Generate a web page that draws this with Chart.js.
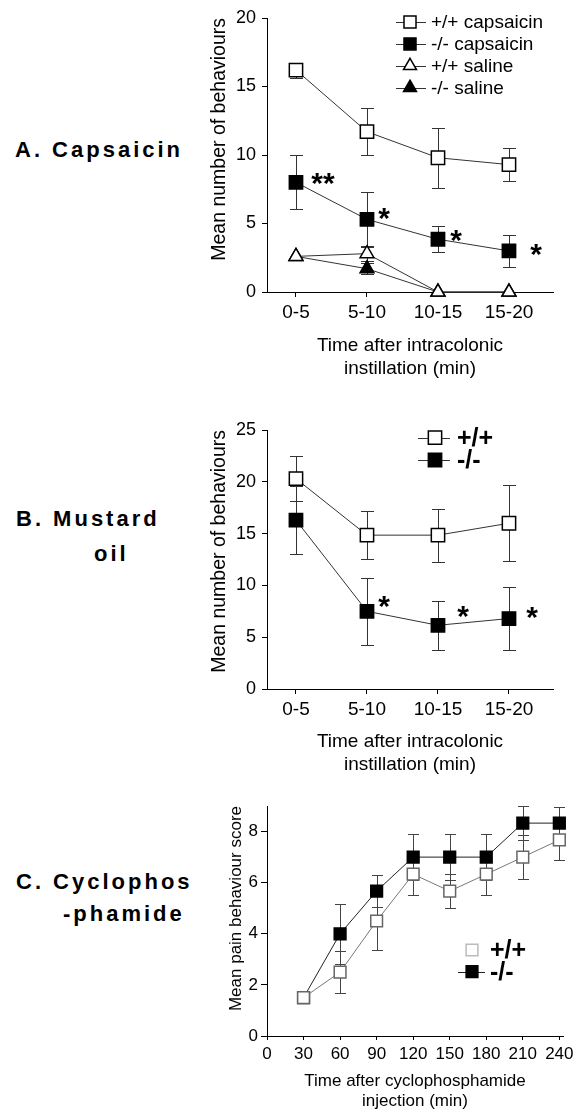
<!DOCTYPE html>
<html><head><meta charset="utf-8">
<script src="https://cdn.jsdelivr.net/npm/chart.js@4.4.1/dist/chart.umd.min.js"></script>
<style>
html,body{margin:0;padding:0;background:#fff;overflow:hidden;width:579px;height:1110px;position:relative;}
.lab{position:absolute;font:bold 22px 'Liberation Sans',Arial,sans-serif;letter-spacing:3px;line-height:26px;white-space:nowrap;color:#000;}
canvas{position:absolute;left:195px;}
</style></head><body>
<div class="lab" style="left:15px;top:137px">A. Capsaicin</div>
<div class="lab" style="left:16px;top:506px">B. Mustard</div>
<div class="lab" style="left:94px;top:541px">oil</div>
<div class="lab" style="left:16px;top:869px">C. Cyclophos</div>
<div class="lab" style="left:63px;top:901px">-phamide</div>
<canvas id="cA" width="384" height="380" style="top:0px"></canvas>
<canvas id="cB" width="384" height="381" style="top:395px"></canvas>
<canvas id="cC" width="384" height="332" style="top:780px"></canvas>
<script>
const FONT = "'Liberation Sans', Arial, Helvetica, sans-serif";

// ---- Panel A: capsaicin ----
const catsA = ['0-5', '5-10', '10-15', '15-20'];
const yTicksA = [0, 5, 10, 15, 20];
const wtCapsA = [16.2, 11.7, 9.8, 9.3];
const wtCapsErrA = [0.55, 1.7, 2.2, 1.2];
const koCapsA = [8.0, 5.3, 3.85, 3.0];
const koCapsErrA = [1.97, 2.0, 0.95, 1.15];
const wtSalA = [2.6, 2.8, 0, 0];
const wtSalErrA = [0, 0.55, 0, 0];
const koSalA = [2.6, 1.7, 0, 0];
const koSalErrA = [0, 0.4, 0, 0];
const starsA = ['**', '*', '*', '*'];

// ---- Panel B: mustard oil ----
const catsB = ['0-5', '5-10', '10-15', '15-20'];
const yTicksB = [0, 5, 10, 15, 20, 25];
const wtB = [20.3, 14.85, 14.85, 16.0];
const wtErrB = [2.2, 2.3, 2.55, 3.65];
const koB = [16.3, 7.5, 6.15, 6.8];
const koErrB = [3.3, 3.25, 2.35, 3.05];
const starsB = ['', '*', '*', '*'];

// ---- Panel C: cyclophosphamide ----
const timesC = [30, 60, 90, 120, 150, 180, 210, 240];
const xTicksC = [0, 30, 60, 90, 120, 150, 180, 210, 240];
const yTicksC = [0, 2, 4, 6, 8];
const wtC = [1.5, 2.5, 4.5, 6.33, 5.67, 6.33, 7.0, 7.67];
const wtErrC = [0.2, 0.82, 1.15, 0.8, 0.67, 0.8, 0.87, 0.8];
const koC = [1.5, 4.0, 5.67, 7.0, 7.0, 7.0, 8.33, 8.33];
const koErrC = [0, 1.18, 0.64, 0.9, 0.9, 0.9, 0.67, 0.64];

Chart.defaults.font.family = FONT;
Chart.defaults.color = '#000';

const idxPts = vals => vals.map((v, i) => ({x: i, y: v}));
const xyPts = (xs, vals) => vals.map((v, i) => ({x: xs[i], y: v}));

function drawMarker(ctx, style, x, y, r, fill, stroke, lw) {
  ctx.save();
  ctx.beginPath();
  if (style === 'rect') {
    const s = r * Math.SQRT1_2;
    ctx.rect(x - s, y - s, 2 * s, 2 * s);
  } else {
    let a = 0;
    ctx.moveTo(x + Math.sin(a) * r, y - Math.cos(a) * r);
    a += 2 * Math.PI / 3;
    ctx.lineTo(x + Math.sin(a) * r, y - Math.cos(a) * r);
    a += 2 * Math.PI / 3;
    ctx.lineTo(x + Math.sin(a) * r, y - Math.cos(a) * r);
    ctx.closePath();
  }
  ctx.fillStyle = fill; ctx.fill();
  ctx.lineWidth = lw; ctx.strokeStyle = stroke; ctx.stroke();
  ctx.restore();
}

const errorBars = {
  id: 'errorBars',
  beforeDatasetsDraw(chart, args, o) {
    const ctx = chart.ctx, xs = chart.scales.x, ys = chart.scales.y;
    chart.data.datasets.forEach(ds => {
      if (!ds.err) return;
      ctx.save();
      ctx.strokeStyle = o.color || '#333';
      ctx.lineWidth = 1;
      ds.data.forEach((p, i) => {
        const e = ds.err[i];
        if (!e) return;
        const x = Math.round(xs.getPixelForValue(p.x)) + 0.5;
        const y1 = Math.round(ys.getPixelForValue(p.y + e)) + 0.5;
        const y2 = Math.round(ys.getPixelForValue(p.y - e)) + 0.5;
        const hw = o.cap || 6.5;
        ctx.beginPath();
        ctx.moveTo(x, y1); ctx.lineTo(x, y2);
        ctx.moveTo(x - hw, y1); ctx.lineTo(x + hw, y1);
        ctx.moveTo(x - hw, y2); ctx.lineTo(x + hw, y2);
        ctx.stroke();
      });
      ctx.restore();
    });
  }
};

const starsPlugin = {
  id: 'stars',
  afterDatasetsDraw(chart, args, o) {
    if (!o.labels) return;
    const ctx = chart.ctx;
    const meta = chart.getDatasetMeta(o.dataset);
    ctx.save();
    ctx.font = 'bold 30px ' + FONT;
    ctx.fillStyle = '#000';
    ctx.textAlign = 'center';
    ctx.textBaseline = 'alphabetic';
    o.labels.forEach((t, i) => {
      if (!t) return;
      const el = meta.data[i];
      ctx.fillText(t, el.x + o.dx[i], el.y + o.dy[i] + 17);
    });
    ctx.restore();
  }
};

const keyPlugin = {
  id: 'keyBox',
  afterDraw(chart, args, o) {
    if (!o.items) return;
    const ctx = chart.ctx;
    o.items.forEach((it, i) => {
      const ds = chart.data.datasets[it.ds];
      const y = o.y0 + i * o.dy;
      if (it.line !== false) {
        ctx.save();
        ctx.strokeStyle = ds.borderColor;
        ctx.lineWidth = 1;
        ctx.beginPath();
        ctx.moveTo(o.lineFrom, Math.round(y) + 0.5);
        ctx.lineTo(o.lineTo, Math.round(y) + 0.5);
        ctx.stroke();
        ctx.restore();
      }
      drawMarker(ctx, ds.pointStyle, o.markerX, y, ds.pointStyle === 'rect' ? o.r : o.rt,
        ds.pointBackgroundColor, it.stroke || ds.pointBorderColor, ds.pointBorderWidth);
      ctx.save();
      ctx.font = o.font;
      ctx.fillStyle = '#000';
      ctx.textAlign = 'left';
      ctx.textBaseline = 'middle';
      ctx.fillText(ds.label, o.textX, y + 1);
      ctx.restore();
    });
  }
};

function ds(label, data, err, style, r, fill, stroke, lineColor) {
  return {label, data, err, pointStyle: style, pointRadius: r, pointBackgroundColor: fill,
    pointBorderColor: stroke, pointBorderWidth: 1.5, borderColor: lineColor, borderWidth: 1,
    clip: false, fill: false, tension: 0};
}

function axisCommon() {
  return {
    grid: {drawOnChartArea: false, drawTicks: true, tickLength: 5, color: '#000'},
    border: {display: true, color: '#000', width: 1}
  };
}

function catChart(id, cats, yTicks, yMax, datasets, xH, topPad, stars, key) {
  return new Chart(document.getElementById(id), {
    type: 'line',
    data: {datasets},
    options: {
      responsive: false, animation: false, events: [],
      layout: {padding: {left: 0, top: topPad, right: 26, bottom: 0}},
      plugins: {legend: {display: false}, tooltip: {enabled: false},
        errorBars: {color: '#333', cap: 6.5}, stars, keyBox: key},
      scales: {
        x: Object.assign(axisCommon(), {
          type: 'linear', min: -0.408, max: 3.62,
          afterBuildTicks: s => { s.ticks = cats.map((c, i) => ({value: i})); },
          afterFit: s => { s.height = xH; },
          ticks: {callback: v => cats[v], font: {size: 19}, color: '#000', padding: 4, maxRotation: 0, autoSkip: false},
          title: {display: true, text: ['Time after intracolonic', 'instillation (min)'],
            font: {size: 19, lineHeight: 1.2}, color: '#000', padding: {top: 0, bottom: 0}}
        }),
        y: Object.assign(axisCommon(), {
          min: 0, max: yMax,
          afterBuildTicks: s => { s.ticks = yTicks.map(v => ({value: v})); },
          afterFit: s => { s.width = 72; },
          ticks: {font: {size: 18}, color: '#000', padding: 6},
          title: {display: true, text: 'Mean number of behaviours', align: 'end',
            font: {size: 19.5, lineHeight: 1.2}, color: '#000', padding: {top: 13.3, bottom: 0}}
        })
      }
    },
    plugins: [errorBars, starsPlugin, keyPlugin]
  });
}

// Panel A
catChart('cA', catsA, yTicksA, 20, [
  ds('+/+ capsaicin', idxPts(wtCapsA), wtCapsErrA, 'rect', 9.4, '#fff', '#000', '#333'),
  ds('-/- capsaicin', idxPts(koCapsA), koCapsErrA, 'rect', 9.4, '#000', '#000', '#333'),
  ds('+/+ saline', idxPts(wtSalA), wtSalErrA, 'triangle', 8, '#fff', '#000', '#333'),
  ds('-/- saline', idxPts(koSalA), koSalErrA, 'triangle', 8, '#000', '#000', '#333')
], 88, 18,
  {dataset: 1, labels: starsA, dx: [27, 17, 18, 27], dy: [-6, -8, -6, -4]},
  {items: [{ds: 0}, {ds: 1}, {ds: 2}, {ds: 3}], y0: 22, dy: 21.9, lineFrom: 201, lineTo: 231,
   markerX: 215, textX: 236, r: 8.5, rt: 7.5, font: '19px ' + FONT});

// Panel B
catChart('cB', catsB, yTicksB, 25, [
  ds('+/+', idxPts(wtB), wtErrB, 'rect', 9.4, '#fff', '#000', '#333'),
  ds('-/-', idxPts(koB), koErrB, 'rect', 9.4, '#000', '#000', '#333')
], 87, 35,
  {dataset: 1, labels: starsB, dx: [0, 17, 25, 23], dy: [0, -12, -16, -9]},
  {items: [{ds: 0}, {ds: 1}], y0: 42.7, dy: 22.3, lineFrom: 223, lineTo: 255,
   markerX: 240, textX: 262, r: 9.4, rt: 8, font: 'bold 25px ' + FONT});

// Panel C
new Chart(document.getElementById('cC'), {
  type: 'line',
  data: {datasets: [
    ds('+/+', xyPts(timesC, wtC), wtErrC, 'rect', 8.3, '#fff', '#666', '#777'),
    ds('-/-', xyPts(timesC, koC), koErrC, 'rect', 8.3, '#000', '#000', '#222')
  ]},
  options: {
    responsive: false, animation: false, events: [],
    layout: {padding: {left: 0, top: 26, right: 16, bottom: 0}},
    plugins: {legend: {display: false}, tooltip: {enabled: false},
      errorBars: {color: '#444', cap: 5.5},
      keyBox: {items: [{ds: 0, line: false, stroke: '#bbb'}, {ds: 1}], y0: 170, dy: 21.7,
        lineFrom: 263, lineTo: 290, markerX: 277, textX: 295, r: 8.3, rt: 8, font: 'bold 25px ' + FONT}},
    scales: {
      x: Object.assign(axisCommon(), {
        type: 'linear', min: 0, max: 243,
        afterBuildTicks: s => { s.ticks = xTicksC.map(v => ({value: v})); },
        afterFit: s => { s.height = 76; },
        ticks: {font: {size: 17}, color: '#000', padding: 4, maxRotation: 0, autoSkip: false},
        grid: {drawOnChartArea: false, drawTicks: true, tickLength: 4, color: '#000'},
        title: {display: true, text: ['Time after cyclophosphamide', 'injection (min)'],
          font: {size: 17, lineHeight: 1.2}, color: '#000', padding: {top: 0, bottom: 0}}
      }),
      y: Object.assign(axisCommon(), {
        min: 0, max: 9,
        afterBuildTicks: s => { s.ticks = yTicksC.map(v => ({value: v})); },
        afterFit: s => { s.width = 72; },
        ticks: {font: {size: 17}, color: '#000', padding: 3},
        grid: {drawOnChartArea: false, drawTicks: true, tickLength: 6, color: '#000'},
        title: {display: true, text: 'Mean pain behaviour score', align: 'end',
          font: {size: 17, lineHeight: 1.2}, color: '#000', padding: {top: 31.5, bottom: 0}}
      })
    }
  },
  plugins: [errorBars, keyPlugin]
});
</script>
</body></html>
